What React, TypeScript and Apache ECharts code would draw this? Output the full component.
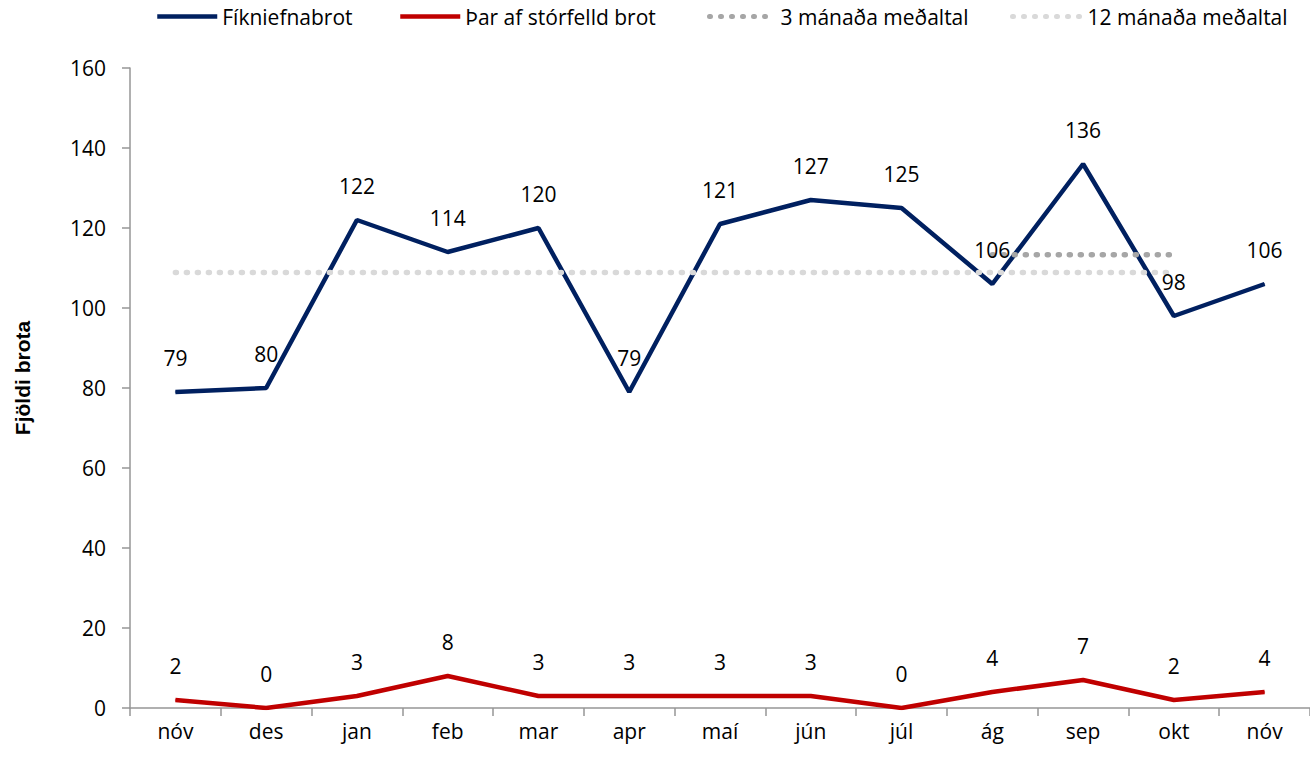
import React, { useEffect, useRef } from "react";
import * as echarts from "echarts";

const categories = ["nóv", "des", "jan", "feb", "mar", "apr", "maí", "jún", "júl", "ág", "sep", "okt", "nóv"];
const fikniefnabrot = [79, 80, 122, 114, 120, 79, 121, 127, 125, 106, 136, 98, 106];
const storfelld = [2, 0, 3, 8, 3, 3, 3, 3, 0, 4, 7, 2, 4];
const avg3 = [null, null, null, null, null, null, null, null, null, 113.3, 113.3, 113.3, null];
const avg12 = [108.9, 108.9, 108.9, 108.9, 108.9, 108.9, 108.9, 108.9, 108.9, 108.9, 108.9, 108.9, null];
const seriesNames = ["Fíkniefnabrot", "Þar af stórfelld brot", "3 mánaða meðaltal", "12 mánaða meðaltal"];
const yTitle = "Fjöldi brota";

const FONT = "'Open Sans', Lato, sans-serif";
const FS = 21;

export default function App() {
  const ref = useRef<HTMLDivElement>(null);
  useEffect(() => {
    const chart = echarts.init(ref.current!, null, { renderer: "svg" });
    const labelStyle = {
      show: true,
      position: "top",
      distance: 23,
      fontSize: FS,
      color: "#000",
      fontFamily: FONT,
    };
    const dotted = [1, 10];
    const legendLefts = [155, 398, 707, 1010];
    const legendWidths = [60, 60, 64, 68];
    const legendLines = [
      { color: "#002060", width: 4.5, type: "solid" },
      { color: "#C00000", width: 4.5, type: "solid" },
      { color: "#a6a6a6", width: 5, type: dotted, cap: "round" },
      { color: "#d9d9d9", width: 5, type: dotted, cap: "round" },
    ];
    const legends = seriesNames.map((n, i) => ({
      top: 6,
      left: legendLefts[i],
      padding: 0,
      itemWidth: legendWidths[i],
      itemHeight: 10,
      itemGap: 0,
      itemStyle: { opacity: 0 },
      lineStyle: legendLines[i],
      textStyle: { fontSize: FS, color: "#000", fontFamily: FONT, padding: [0, 0, 0, i >= 2 ? 2 : 0] },
      data: [n],
    }));
    chart.setOption({
      animation: false,
      backgroundColor: "#fff",
      legend: legends,
      grid: { left: 130, right: 0, top: 68, bottom: 49 },
      graphic: [
        {
          type: "text",
          x: 22,
          y: 378,
          rotation: Math.PI / 2,
          style: {
            text: yTitle,
            fontSize: 21,
            fontWeight: "bold",
            fill: "#000",
            fontFamily: "'Liberation Sans', Arial, sans-serif",
            align: "center",
            verticalAlign: "middle",
          },
        },
      ],
      xAxis: {
        type: "category",
        data: categories,
        boundaryGap: true,
        axisLine: { lineStyle: { color: "#969696", width: 1.5 } },
        axisTick: { show: true, length: 8, lineStyle: { color: "#969696", width: 1.5 } },
        axisLabel: { fontSize: FS, color: "#000", fontFamily: FONT, margin: 12 },
      },
      yAxis: {
        type: "value",
        min: 0,
        max: 160,
        interval: 20,
        splitLine: { show: false },
        axisLine: { show: true, lineStyle: { color: "#969696", width: 1.5 } },
        axisTick: { show: true, length: 8, lineStyle: { color: "#969696", width: 1.5 } },
        axisLabel: { fontSize: FS, color: "#000", fontFamily: FONT, margin: 24 },
      },
      series: [
        {
          name: seriesNames[0],
          type: "line",
          data: fikniefnabrot,
          symbol: "circle",
          symbolSize: 1,
          showSymbol: true,
          lineStyle: { color: "#002060", width: 4.5 },
          itemStyle: { color: "#002060" },
          label: labelStyle,
        },
        {
          name: seriesNames[1],
          type: "line",
          data: storfelld,
          symbol: "circle",
          symbolSize: 1,
          showSymbol: true,
          lineStyle: { color: "#C00000", width: 4.5 },
          itemStyle: { color: "#C00000" },
          label: labelStyle,
        },
        {
          name: seriesNames[2],
          type: "line",
          data: avg3,
          symbol: "none",
          lineStyle: { color: "#a6a6a6", width: 5.5, type: dotted, cap: "round" },
          itemStyle: { color: "#a6a6a6" },
        },
        {
          name: seriesNames[3],
          type: "line",
          data: avg12,
          symbol: "none",
          lineStyle: { color: "#d9d9d9", width: 5.5, type: dotted, cap: "round" },
          itemStyle: { color: "#d9d9d9" },
        },
      ],
    });
    return () => chart.dispose();
  }, []);
  return (
    <div
      ref={ref}
      style={{ position: "fixed", left: 0, top: 0, width: 1310, height: 757, background: "#fff" }}
    />
  );
}
